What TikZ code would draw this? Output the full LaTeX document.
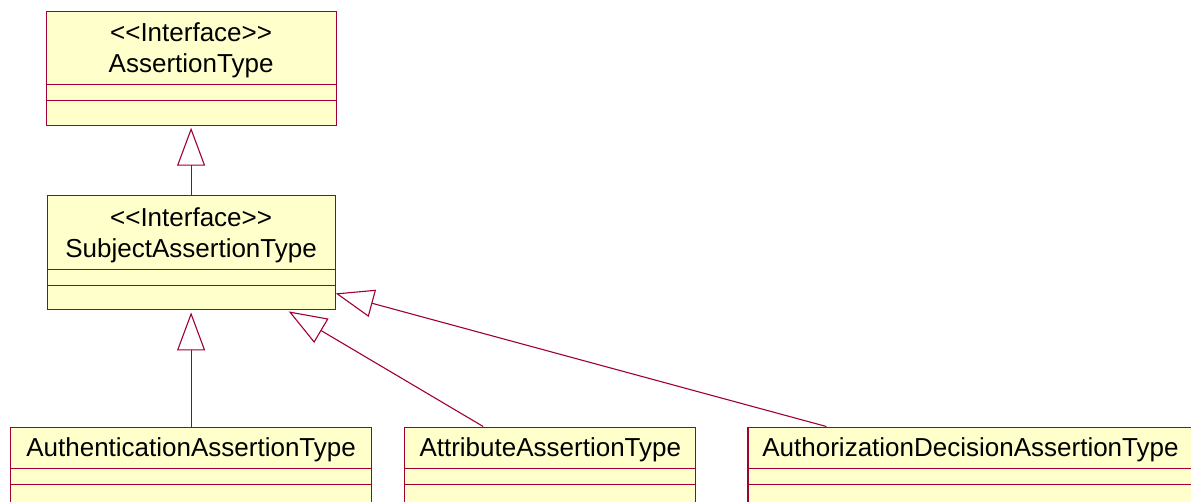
\documentclass[tikz,border=0pt]{standalone}
\usepackage{fontspec}
\setmainfont{Liberation Sans}[Ligatures=TeXOff]
\usetikzlibrary{arrows.meta, positioning}
\definecolor{umlborder}{RGB}{160,0,50}
\definecolor{umlfill}{RGB}{255,255,204}

\tikzset{
    classbox/.style={draw=umlborder, fill=umlfill, line width=1.2pt, anchor=north west, inner sep=0pt},
    classname/.style={font=\fontsize{26}{31}\selectfont, align=center, inner sep=0pt},
    compartment/.style={draw=umlborder, line width=1.2pt},
    inherits/.style={draw=umlborder, line width=1.1pt, -{Triangle[open, length=38pt, width=28pt]}},
}

\begin{document}
\begin{tikzpicture}[x=1pt, y=-1pt]
            \clip (0,0) rectangle (1191,501);
            % interfaces
            \node [classbox, minimum width=290pt, minimum height=114pt] (assertion) at (45.5,10.5) {};
            \node [classbox, minimum width=288pt, minimum height=114pt, below=69.5pt of assertion.south west, anchor=north west, xshift=1pt] (subject) {};
            % concrete types, bottom row
            \node [classbox, minimum width=361pt, minimum height=100pt] (authn) at (10,426.5) {};
            \node [classbox, minimum width=291pt, minimum height=100pt, right=32pt of authn.north east, anchor=north west] (attribute) {};
            \node [classbox, minimum width=445pt, minimum height=100pt, right=51pt of attribute.north east, anchor=north west] (authz) {};

            \node [classname] (assertion-name) at ([yshift=-40pt]assertion.north) {<<Interface>>\\AssertionType};
            \node [classname] (subject-name) at ([yshift=-40pt]subject.north) {<<Interface>>\\SubjectAssertionType};
            \node [classname] (authn-name) at ([yshift=-23.5pt]authn.north) {AuthenticationAssertionType};
            \node [classname] (attribute-name) at ([yshift=-23.5pt]attribute.north) {AttributeAssertionType};
            \node [classname] (authz-name) at ([yshift=-23.5pt]authz.north) {AuthorizationDecisionAssertionType};

            % compartments
            \foreach \cls in {assertion, subject} {
                \draw [compartment] ([yshift=-74pt]\cls.north west) -- ([yshift=-74pt]\cls.north east);
                \draw [compartment] ([yshift=-90pt]\cls.north west) -- ([yshift=-90pt]\cls.north east);
            }
            \foreach \cls in {authn, attribute, authz} {
                \draw [compartment] ([yshift=-42pt]\cls.north west) -- ([yshift=-42pt]\cls.north east);
                \draw [compartment] ([yshift=-58pt]\cls.north west) -- ([yshift=-58pt]\cls.north east);
            }

            % generalisations
            \draw [inherits, shorten >=2pt] (subject.north) -- (assertion.south);
            \draw [inherits, shorten >=2pt] (authn.north) -- (subject.south);
            \draw [inherits] ([xshift=79pt]attribute.north west) -- ([xshift=-47pt, yshift=-1pt]subject.south east);
            \draw [inherits] ([xshift=79pt]authz.north west) -- ([xshift=0pt, yshift=17pt]subject.south east);
\end{tikzpicture}
\end{document}
